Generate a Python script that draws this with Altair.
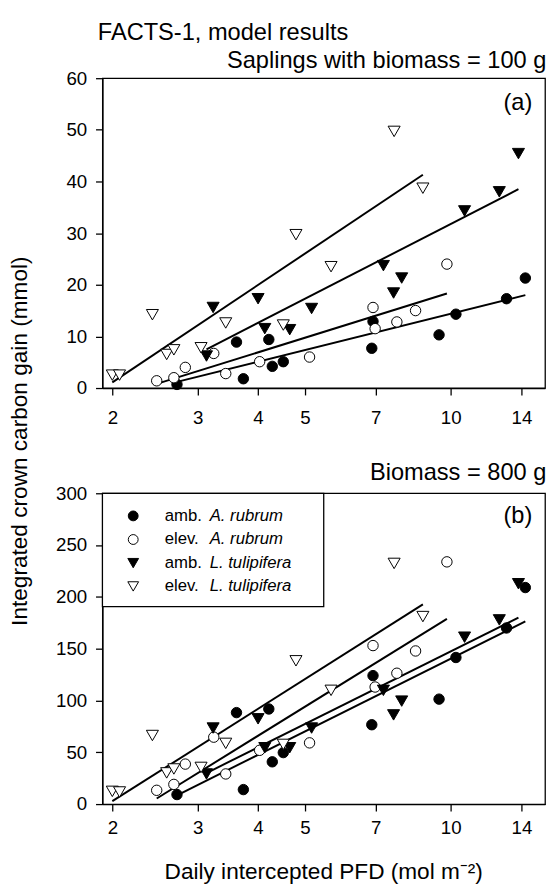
import altair as alt
import pandas as pd

FONT = "Liberation Sans"

series_names = ["amb. A. rubrum", "elev. A. rubrum", "amb. L. tulipifera", "elev. L. tulipifera"]
series_status = ["amb.", "elev.", "amb.", "elev."]
series_species = ["A. rubrum", "A. rubrum", "L. tulipifera", "L. tulipifera"]
series_shape = ["circle", "circle", "triangle-down", "triangle-down"]
series_fill = ["black", "white", "black", "white"]

# Daily intercepted PFD (mol m-2) per sapling, and crown carbon gain (mmol)
arub_amb_x = [2.72, 3.61, 3.73, 4.21, 4.28, 4.51, 6.87, 6.91, 9.46, 10.25, 13.04, 14.26]
arub_amb_y100 = [0.7, 8.9, 1.8, 9.4, 4.2, 5.1, 7.7, 12.9, 10.3, 14.3, 17.3, 21.3]
arub_amb_y800 = [9.2, 88.3, 14.0, 91.8, 40.8, 49.7, 76.6, 124.0, 101.3, 141.5, 170.0, 209.0]

arub_elev_x = [2.47, 2.68, 2.83, 3.24, 3.43, 4.03, 5.11, 6.91, 6.98, 7.74, 8.46, 9.82]
arub_elev_y100 = [1.4, 2.0, 4.0, 6.7, 2.8, 5.1, 6.0, 15.6, 11.5, 12.8, 15.0, 24.0]
arub_elev_y800 = [13.3, 19.0, 38.6, 64.6, 29.1, 51.9, 59.1, 153.0, 113.0, 126.3, 147.8, 233.8]

ltul_amb_x = [3.13, 3.23, 4.00, 4.13, 4.65, 5.16, 7.26, 7.62, 7.92, 10.68, 12.6, 13.8]
ltul_amb_y100 = [6.2, 15.6, 17.3, 11.5, 11.3, 15.4, 23.7, 18.4, 21.3, 34.3, 38.0, 45.4]
ltul_amb_y800 = [29.1, 73.4, 82.3, 54.4, 54.4, 73.4, 109.8, 86.1, 99.4, 161.1, 177.8, 212.7]

ltul_elev_x = [2.00, 2.07, 2.42, 2.59, 2.68, 3.05, 3.43, 4.51, 4.79, 5.66, 7.64, 8.76]
ltul_elev_y100 = [2.5, 2.5, 14.2, 6.5, 7.4, 7.8, 12.6, 12.2, 29.7, 23.5, 49.7, 38.7]
ltul_elev_y800 = [12.3, 11.7, 66.2, 30.1, 33.9, 35.4, 58.6, 57.6, 138.3, 109.8, 232.3, 181.0]

# fitted lines: start/end x and y for each series
fit_x0 = [2.72, 2.47, 3.13, 2.00]
fit_x1 = [14.26, 9.82, 13.8, 8.76]
fit100_y0 = [1.2, 0.8, 7.5, 1.1]
fit100_y1 = [18.0, 18.3, 38.5, 41.3]
fit800_y0 = [8.5, 5.4, 30.0, 2.8]
fit800_y1 = [176.3, 178.8, 180.0, 192.7]

x_ticks = [2, 3, 4, 5, 7, 10, 14]
y100_ticks = [0, 10, 20, 30, 40, 50, 60]
y800_ticks = [0, 50, 100, 150, 200, 250, 300]

title_main = "FACTS-1, model results"
header_a = "Saplings with biomass = 100 g"
header_b = "Biomass = 800 g"
label_a = "(a)"
label_b = "(b)"
y_title = "Integrated crown carbon gain (mmol)"
x_title = "Daily intercepted PFD (mol m\u207b\u00b2)"

# ---- build tables ----
xs_all = [arub_amb_x, arub_elev_x, ltul_amb_x, ltul_elev_x]
y100_all = [arub_amb_y100, arub_elev_y100, ltul_amb_y100, ltul_elev_y100]
y800_all = [arub_amb_y800, arub_elev_y800, ltul_amb_y800, ltul_elev_y800]

rows = []
for i, name in enumerate(series_names):
    for x, a, b in zip(xs_all[i], y100_all[i], y800_all[i]):
        rows.append({"series": name, "x": x, "y100": a, "y800": b,
                     "kind": series_shape[i]})
pts = pd.DataFrame(rows)

lrows = []
for i, name in enumerate(series_names):
    lrows.append({"series": name, "x": fit_x0[i], "y100": fit100_y0[i], "y800": fit800_y0[i]})
    lrows.append({"series": name, "x": fit_x1[i], "y100": fit100_y1[i], "y800": fit800_y1[i]})
lines = pd.DataFrame(lrows)

W, H1, H2 = 450, 315, 316
FS_TICK = 19
FS_HEAD = 24
FS_TITLE = 23
FS_LEG = 17

xscale = alt.Scale(type="log", domain=[1.908, 15.66], nice=False)
fill_scale = alt.Scale(domain=series_names, range=series_fill)

one = pd.DataFrame({"k": [0]})


def txt(t, x, y, size, align="left", baseline="alphabetic", angle=0, italic=False):
    kw = dict(font=FONT, fontSize=size, align=align, baseline=baseline, color="black")
    if angle:
        kw["angle"] = angle
    if italic:
        kw["fontStyle"] = "italic"
    return alt.Chart(pd.DataFrame({"t": [t]})).mark_text(**kw).encode(
        x=alt.value(x), y=alt.value(y), text="t:N")


def panel(ycol, ydom, yticks, xpad):
    yscale = alt.Scale(domain=ydom, nice=False)
    yaxis = alt.Axis(values=yticks, title=None)
    xaxis = alt.Axis(values=x_ticks, format="d", title=None, labelPadding=xpad)
    ln = alt.Chart(lines).mark_line(color="black", strokeWidth=2).encode(
        x=alt.X("x:Q", scale=xscale, axis=xaxis),
        y=alt.Y(f"{ycol}:Q", scale=yscale, axis=yaxis),
        detail="series:N")
    circ = alt.Chart(pts).transform_filter(alt.datum.kind == "circle").mark_point(
        shape="circle", size=112, filled=True, stroke="black", strokeWidth=1, opacity=1
    ).encode(
        x=alt.X("x:Q", scale=xscale, axis=xaxis),
        y=alt.Y(f"{ycol}:Q", scale=yscale, axis=yaxis),
        fill=alt.Fill("series:N", scale=fill_scale, legend=None))
    tri = alt.Chart(pts).transform_filter(alt.datum.kind == "triangle-down").mark_point(
        shape="triangle-down", size=150, filled=True, stroke="black", strokeWidth=1, opacity=1
    ).encode(
        x=alt.X("x:Q", scale=xscale, axis=xaxis),
        y=alt.Y(f"{ycol}:Q", scale=yscale, axis=yaxis),
        fill=alt.Fill("series:N", scale=fill_scale, legend=None))
    return [ln, circ, tri]


anchor = alt.Chart(one).mark_rule(opacity=0, strokeWidth=0.01).encode(
    x=alt.value(-94), x2=alt.value(-93.5), y=alt.value(-63), y2=alt.value(-62))

top_layers = panel("y100", [0, 60], y100_ticks, 14) + [
    txt(label_a, 437, 32, FS_HEAD, align="right"),
    txt(title_main, -4.7, -39, FS_HEAD),
    txt(header_a, 451.3, -10, FS_HEAD, align="right"),
    txt(y_title, -83.5, 369, FS_TITLE, align="center", baseline="middle", angle=270),
    anchor,
]
top = alt.layer(*top_layers).properties(width=W, height=H1)

# legend
leg_rows_y = [23, 47, 71, 94.7]
legend_box = alt.Chart(one).mark_rect(fill="white", stroke="black", strokeWidth=1.3).encode(
    x=alt.value(0), x2=alt.value(225), y=alt.value(0), y2=alt.value(115.3))
leg_layers = [legend_box]
for i in range(4):
    leg_layers.append(
        alt.Chart(one).mark_point(shape=series_shape[i], size=100 if series_shape[i] == "circle" else 120,
                                  filled=True, fill=series_fill[i], stroke="black",
                                  strokeWidth=1, opacity=1).encode(
            x=alt.value(31.3), y=alt.value(leg_rows_y[i])))
    leg_layers.append(txt(series_status[i], 63.3, leg_rows_y[i], FS_LEG, baseline="middle"))
    leg_layers.append(txt(series_species[i], 109, leg_rows_y[i], FS_LEG, baseline="middle", italic=True))

bottom_layers = panel("y800", [0, 300], y800_ticks, 8) + leg_layers + [
    txt(label_b, 437, 30, FS_HEAD, align="right"),
    txt(header_b, 451.3, -13, FS_HEAD, align="right"),
    txt(x_title, 225, H2 + 76, FS_TITLE, align="center"),
]
bottom = alt.layer(*bottom_layers).properties(width=W, height=H2)

chart = alt.vconcat(top, bottom, spacing=107, bounds="flush").properties(
    padding={"left": 0, "top": 0, "right": 0, "bottom": 0}
).configure_view(stroke="black", strokeWidth=1.3).configure_axis(
    grid=False, domainColor="black", domainWidth=1.3, tickColor="black", tickWidth=1.3,
    tickSize=7, labelFont=FONT, labelFontSize=FS_TICK, labelColor="black"
).configure_axisY(labelPadding=9)

chart.save("out.html", embed_options={"renderer": "svg", "actions": False})
